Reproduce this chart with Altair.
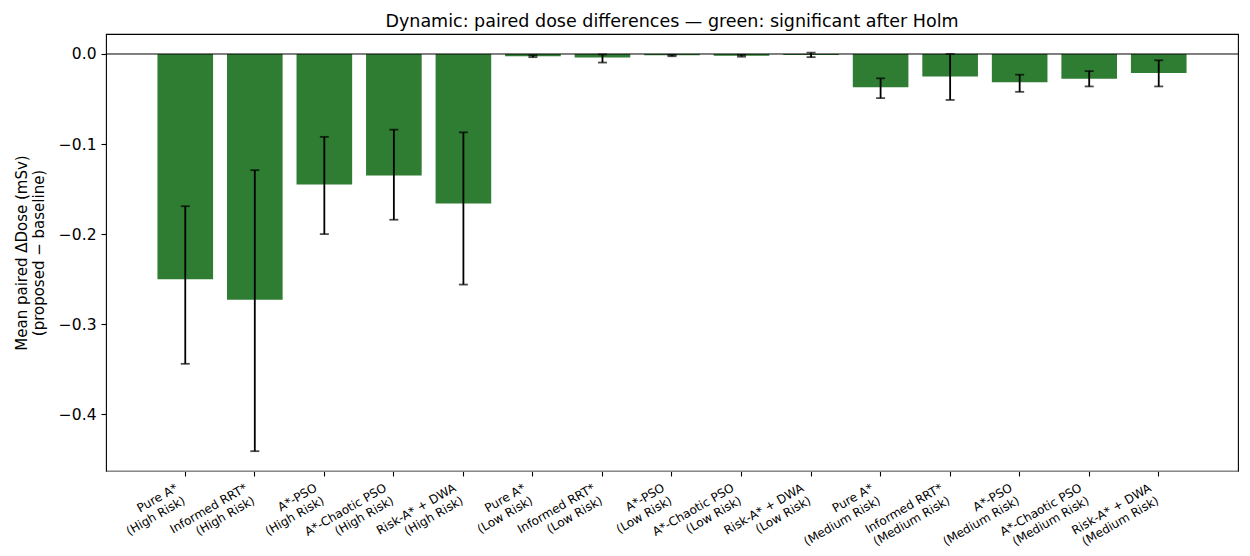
import altair as alt
import pandas as pd

labels = [
    "Pure A*\n(High Risk)", "Informed RRT*\n(High Risk)", "A*-PSO\n(High Risk)",
    "A*-Chaotic PSO\n(High Risk)", "Risk-A* + DWA\n(High Risk)",
    "Pure A*\n(Low Risk)", "Informed RRT*\n(Low Risk)", "A*-PSO\n(Low Risk)",
    "A*-Chaotic PSO\n(Low Risk)", "Risk-A* + DWA\n(Low Risk)",
    "Pure A*\n(Medium Risk)", "Informed RRT*\n(Medium Risk)", "A*-PSO\n(Medium Risk)",
    "A*-Chaotic PSO\n(Medium Risk)", "Risk-A* + DWA\n(Medium Risk)",
]
mean_diff = [-0.250, -0.273, -0.145, -0.135, -0.166,
             -0.0025, -0.004, -0.0015, -0.002, -0.001,
             -0.037, -0.025, -0.0315, -0.0275, -0.021]
ci_low = [-0.344, -0.441, -0.200, -0.184, -0.256,
          -0.0035, -0.0095, -0.0025, -0.003, -0.0035,
          -0.049, -0.051, -0.042, -0.036, -0.036]
ci_high = [-0.169, -0.129, -0.092, -0.084, -0.087,
           -0.0015, -0.0005, -0.001, -0.001, 0.0015,
           -0.027, 0.0, -0.023, -0.019, -0.007]

df = pd.DataFrame({"label": labels, "mean": mean_diff, "lo": ci_low, "hi": ci_high})
zero_df = pd.DataFrame({"z": [0.0]})

FONT = "DejaVu Sans"

x_enc = alt.X(
    "label:N", sort=None,
    scale=alt.Scale(paddingInner=0.2, paddingOuter=0.74),
    axis=alt.Axis(
        title=None, labelAngle=-30, labelAlign="right", labelBaseline="top",
        labelExpr="split(datum.label, '\\n')", labelFontSize=12, labelLineHeight=14.5,
        labelOffset=-11, labelPadding=6, tickSize=5, labelOverlap=False,
    ),
)
y_scale = alt.Scale(domain=[-0.463, 0.0222], nice=False, zero=False)
y_axis = alt.Axis(
    values=[0.0, -0.1, -0.2, -0.3, -0.4], format=".1f", labelFontSize=15.5,
    title=["Mean paired \u0394Dose (mSv)", "(proposed \u2212 baseline)"],
    titleFontSize=15, titleFontWeight="normal", titlePadding=12,
    tickSize=5, labelPadding=5, grid=False, domain=False,
)

bars = alt.Chart(df).mark_bar(color="#2e7d32").encode(
    x=x_enc,
    y=alt.Y("mean:Q", scale=y_scale, axis=y_axis),
    y2=alt.datum(0),
)
rules = alt.Chart(df).mark_rule(color="black", strokeWidth=1.8).encode(
    x=x_enc, y=alt.Y("lo:Q", scale=y_scale, axis=y_axis), y2="hi:Q",
)
caps_lo = alt.Chart(df).mark_tick(color="black", thickness=1.8, size=9).encode(
    x=x_enc, y=alt.Y("lo:Q", scale=y_scale, axis=y_axis),
)
caps_hi = alt.Chart(df).mark_tick(color="black", thickness=1.8, size=9).encode(
    x=x_enc, y=alt.Y("hi:Q", scale=y_scale, axis=y_axis),
)
zero_line = alt.Chart(zero_df).mark_rule(color="black", strokeWidth=1).encode(
    y=alt.Y("z:Q", scale=y_scale, axis=y_axis),
)

chart = alt.layer(bars, zero_line, rules, caps_lo, caps_hi).properties(
    width=1132, height=437,
    padding={"left": 98, "top": 26, "right": 2, "bottom": 83},
    autosize=alt.AutoSizeParams(type="none"),
    title=alt.TitleParams(
        text="Dynamic: paired dose differences \u2014 green: significant after Holm",
        fontSize=17.5, font=FONT, fontWeight="normal", anchor="middle",
        frame="group", offset=6, baseline="bottom", color="black", dy=20,
    ),
).configure_view(stroke="black", strokeWidth=1.1).configure_axis(
    labelFont=FONT, titleFont=FONT, labelColor="black", titleColor="black",
    tickColor="black", tickWidth=1.1,
)

chart.save("out.html", embed_options={"renderer": "svg", "actions": False})
